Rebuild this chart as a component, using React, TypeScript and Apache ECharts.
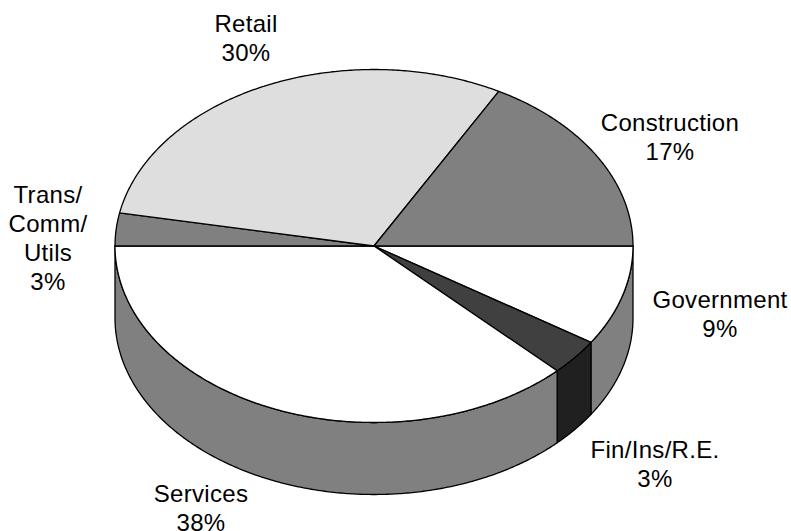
import React, { useEffect, useRef } from "react";
import * as echarts from "echarts";

const categories = ["Government", "Fin/Ins/R.E.", "Services", "Trans/\nComm/\nUtils", "Retail", "Construction"];
const shares = [9.2, 3.3, 37.5, 3, 30, 17];
const topColors = ["#ffffff", "#404040", "#ffffff", "#808080", "#dedede", "#808080"];
const sideColors = ["#808080", "#202020", "#808080", "#808080", "#808080", "#808080"];
const labelAnchors = [
  [720, 314],
  [655, 464],
  [201, 507.5],
  [48, 238],
  [246, 37.5],
  [670, 137],
];

const CX = 374;
const CY = 246;
const RX = 259;
const RY = 176.5;
const DEPTH = 72;
const FONT = "Liberation Sans, Arial, sans-serif";

function arcPoints(fromDeg: number, toDeg: number, dy: number) {
  const pts: number[][] = [];
  const n = Math.max(2, Math.ceil((toDeg - fromDeg) / 0.5));
  for (let i = 0; i <= n; i++) {
    const a = ((fromDeg + ((toDeg - fromDeg) * i) / n) * Math.PI) / 180;
    pts.push([CX + RX * Math.cos(a), CY + RY * Math.sin(a) + dy]);
  }
  return pts;
}

export default function App() {
  const ref = useRef<HTMLDivElement>(null);
  useEffect(() => {
    const chart = echarts.init(ref.current!, undefined, { renderer: "svg" });
    const total = shares.reduce((a, b) => a + b, 0);
    chart.setOption({
      animation: false,
      backgroundColor: "#ffffff",
      series: [
        {
          type: "custom",
          coordinateSystem: "none",
          silent: true,
          data: shares.map((v) => [v]),
          renderItem: (params: any, api: any) => {
            const i = params.dataIndex;
            const before = shares.slice(0, i).reduce((a, b) => a + b, 0);
            const from = (before / total) * 360;
            const to = ((before + api.value(0)) / total) * 360;
            const children: any[] = [];
            const line = { stroke: "#000000", lineWidth: 1.3, lineJoin: "round" };
            if (from < 180) {
              const end = Math.min(to, 180);
              const wall = [...arcPoints(from, end, 0), ...arcPoints(from, end, DEPTH).reverse()];
              children.push({
                type: "polygon",
                shape: { points: wall },
                style: { fill: sideColors[i], ...line },
              });
            }
            children.push({
              type: "polygon",
              shape: { points: [[CX, CY], ...arcPoints(from, to, 0)] },
              style: { fill: topColors[i], ...line },
            });
            const [lx, ly] = labelAnchors[i];
            children.push({
              type: "text",
              style: {
                text: `${categories[i]}\n${Math.round(shares[i])}%`,
                x: lx,
                y: ly,
                textAlign: "center",
                textVerticalAlign: "middle",
                fill: "#000000",
                font: `24px ${FONT}`,
                lineHeight: 29,
              },
            });
            return { type: "group", children };
          },
        },
      ],
    });
    return () => chart.dispose();
  }, []);
  return (
    <div
      ref={ref}
      style={{ position: "absolute", left: 0, top: 0, width: 791, height: 531, letterSpacing: "0.3px" }}
    />
  );
}
